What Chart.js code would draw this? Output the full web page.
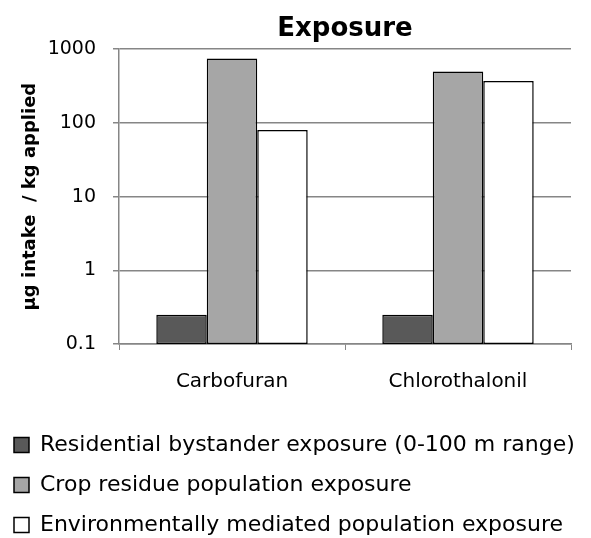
<!DOCTYPE html>
<html>
<head>
<meta charset="utf-8">
<script src="https://cdn.jsdelivr.net/npm/chart.js@4/dist/chart.umd.min.js"></script>
<style>
  html, body { margin: 0; padding: 0; background: #fff; }
  #wrap { width: 591px; height: 538px; }
</style>
</head>
<body>
<div id="wrap"><canvas id="exposureCanvas"></canvas></div>
<script>
const categories = ['Carbofuran', 'Chlorothalonil'];
const seriesNames = [
    'Residential bystander exposure (0-100 m range)',
    'Crop residue population exposure',
    'Environmentally mediated population exposure'
];
const residentialValues = [0.25, 0.25];
const cropResidueValues = [750, 500];
const environmentValues = [80, 370];
const yTickValues = [0.1, 1, 10, 100, 1000];

const gridGray = '#868686';
const mainFont = 'DejaVu Sans';

const ctx = document.getElementById('exposureCanvas').getContext('2d');

const makeSet = (label, data, fill) => ({
    label: label,
    data: data,
    backgroundColor: fill,
    borderColor: '#000',
    borderWidth: 1.5,
    borderSkipped: false,
    categoryPercentage: 0.67,
    barPercentage: 1.0
});

const exposureChart = new Chart(ctx, {
    type: 'bar',
    data: {
        labels: categories,
        datasets: [
            makeSet(seriesNames[0], residentialValues, '#595959'),
            makeSet(seriesNames[1], cropResidueValues, '#a6a6a6'),
            makeSet(seriesNames[2], environmentValues, '#ffffff')
        ]
    },
    options: {
        responsive: true,
        maintainAspectRatio: false,
        animation: false,
        layout: { padding: { left: -4, right: 0, top: 0, bottom: -8 } },
        plugins: {
            title: {
                display: true,
                text: 'Exposure',
                color: '#000',
                fullSize: false,
                font: { family: mainFont, size: 26, weight: 'bold' },
                padding: { top: 14, bottom: 4 }
            },
            legend: {
                display: true,
                position: 'bottom',
                align: 'start',
                labels: {
                    color: '#000',
                    font: { family: mainFont, size: 22 },
                    boxWidth: 15,
                    boxHeight: 15,
                    padding: 18
                }
            },
            tooltip: { enabled: false }
        },
        scales: {
            x: {
                grid: {
                    display: true,
                    drawOnChartArea: false,
                    offset: true,
                    color: gridGray,
                    tickLength: 6
                },
                border: { color: gridGray, width: 1.5 },
                ticks: {
                    color: '#000',
                    font: { family: mainFont, size: 20 },
                    padding: 20
                },
                afterFit: (scale) => { scale.height = 72; }
            },
            y: {
                type: 'logarithmic',
                min: 0.1,
                max: 1000,
                afterBuildTicks: (scale) => {
                    scale.ticks = yTickValues.map((v) => ({ value: v }));
                },
                grid: {
                    color: gridGray,
                    lineWidth: 1.5,
                    tickLength: 6
                },
                border: { color: gridGray, width: 1.5 },
                ticks: {
                    color: '#000',
                    font: { family: mainFont, size: 19 },
                    padding: 17,
                    callback: (value) => String(value)
                },
                title: {
                    display: true,
                    text: 'µg intake  / kg applied',
                    color: '#000',
                    font: { family: mainFont, size: 18, weight: 'bold' },
                    padding: { top: 24, bottom: 0 }
                },
                afterFit: (scale) => { scale.width = 123; }
            },
            // empty right-hand axis only reserves the margin beside the plot
            rightMargin: {
                position: 'right',
                type: 'linear',
                display: true,
                grid: { display: false },
                border: { display: false },
                ticks: { display: false },
                afterFit: (scale) => { scale.width = 20; }
            }
        }
    }
});
</script>
</body>
</html>
